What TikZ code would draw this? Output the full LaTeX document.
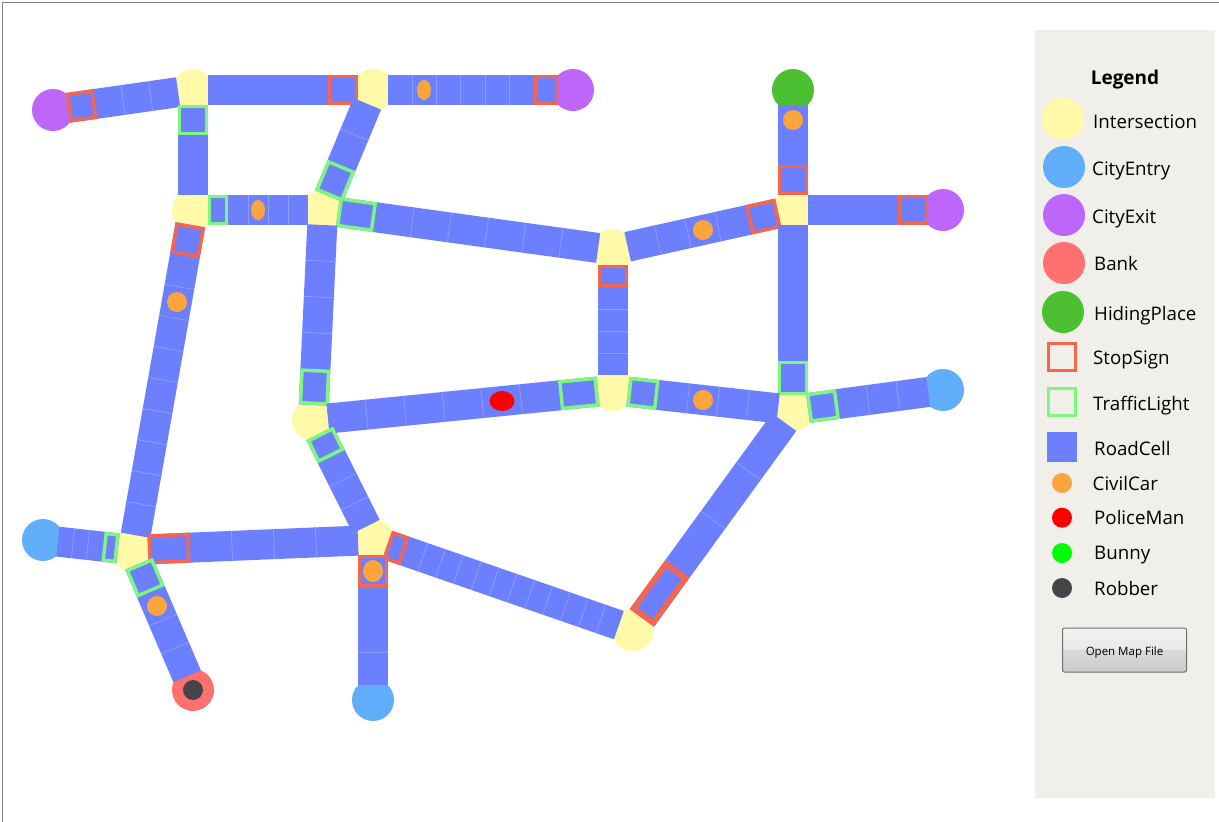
\documentclass[tikz,border=0pt]{standalone}
\usepackage{fontspec}
\setmainfont{Open Sans}
\usetikzlibrary{calc,shapes.geometric}
\definecolor{roadc}{HTML}{6B7FFF}
\definecolor{cutc}{HTML}{8D9DFF}
\definecolor{interc}{HTML}{FFF9A8}
\definecolor{entryc}{HTML}{60AEFA}
\definecolor{exitc}{HTML}{BE66FA}
\definecolor{bankc}{HTML}{FF7070}
\definecolor{hidec}{HTML}{4DBF33}
\definecolor{stopc}{HTML}{F7654D}
\definecolor{lightc}{HTML}{7DF77D}
\definecolor{carc}{HTML}{FCA53C}
\definecolor{robberc}{HTML}{444449}
\definecolor{panelc}{HTML}{F0EFEA}
\definecolor{btnA}{HTML}{CCCCCC}
\definecolor{btnB}{HTML}{D9D9D9}
\definecolor{btnC}{HTML}{E8E8E8}
\definecolor{btnD}{HTML}{F2F2F2}
\pgfdeclareverticalshading{btnshade}{100bp}{color(0bp)=(btnA); color(25bp)=(btnA); color(50bp)=(btnB); color(50.5bp)=(btnC); color(75bp)=(btnD); color(100bp)=(btnD)}
\tikzset{
  place/.style={circle,inner sep=0pt,minimum size=42pt,fill=#1},
  road/.style={draw=roadc,line width=30pt,shorten <=15pt,shorten >=15pt},
  cut/.style={draw=cutc,line width=0.8pt},
  stopbox/.style={draw=stopc,line width=3.4pt,line join=miter},
  stopheavy/.style={draw=stopc,line width=5.5pt,line join=miter},
  lightbox/.style={draw=lightc,line width=3.4pt,line join=miter},
  agent/.style={ellipse,inner sep=0pt,minimum width=20pt,minimum height=20pt,fill=#1},
  carthin/.style={ellipse,inner sep=0pt,minimum width=14pt,minimum height=20pt,fill=carc},
  lbl/.style={anchor=base west,inner sep=0pt,font=\fontsize{18.7}{22}\selectfont,text=black},
  sq/.style={rectangle,inner sep=0pt,minimum size=27pt,line width=3pt,fill=panelc,draw=#1},
}
% a, b, number of cells, visible cell borders, style of the signal box, cell of the box
\newcommand\mkroad[6]{%
  \draw[road] (#1.center) -- (#2.center);
  \pgfpointdiff{\pgfpointanchor{#1}{center}}{\pgfpointanchor{#2}{center}}%
  \pgfgetlastxy{\rdx}{\rdy}%
  \pgfmathsetmacro\rlen{veclen(\rdx,\rdy)}%
  \pgfmathsetmacro\rang{atan2(\rdy,\rdx)}%
  \pgfmathsetmacro\rcell{(\rlen-30)/#3}%
  \begin{scope}[shift={(#1.center)},rotate=\rang,x=1pt,y=1pt]
    \foreach \k in {#4}{%
      \ifnum\k>0
        \draw[cut] ({15+\k*\rcell},-15) -- ({15+\k*\rcell},15);
      \fi}
    \draw[#5] ({15+#6*\rcell+0.5*\pgflinewidth},{-15+0.5*\pgflinewidth}) rectangle ({15+(#6+1)*\rcell-0.5*\pgflinewidth},{15-0.5*\pgflinewidth});
  \end{scope}%
}
\begin{document}
\begin{tikzpicture}[x=1pt,y=-1pt]
\useasboundingbox (0,0) rectangle (1219,822);
\fill[white] (0,0) rectangle (1219,822);
\draw[gray,line width=1pt] (2.5,822) -- (2.5,2.5) -- (1219,2.5);
% places
\node[place=interc] (i1) at (193,90) {};
\node[place=interc] (i2) at (373,90) {};
\node[place=interc] (i3) at (193,210) {};
\node[place=interc] (i4) at (323,210) {};
\node[place=interc] (i5) at (613,250) {};
\node[place=interc] (i6) at (793,210) {};
\node[place=interc] (i7) at (613,390) {};
\node[place=interc] (i8) at (313,420) {};
\node[place=interc] (i9) at (793,410) {};
\node[place=interc] (i10) at (133,550) {};
\node[place=interc] (i11) at (373,540) {};
\node[place=interc] (i12) at (633,630) {};
\node[place=exitc] (x1) at (53,110) {};
\node[place=exitc] (x2) at (573,90) {};
\node[place=exitc] (x3) at (943,210) {};
\node[place=hidec] (hide) at (793,90) {};
\node[place=entryc] (e1) at (943,390) {};
\node[place=entryc] (e2) at (43,540) {};
\node[place=entryc] (e3) at (373,700) {};
\node[place=bankc] (bank) at (193,690) {};
% roads
\mkroad{x1}{i1}{4}{2,3}{stopbox}{0}
\mkroad{i1}{i2}{5}{0}{stopbox}{4}
\mkroad{i2}{x2}{7}{1,2,3,4,5}{stopbox}{6}
\mkroad{i1}{i3}{3}{0}{lightbox}{0}
\mkroad{i3}{i4}{5}{2,3,4}{lightbox}{0}
\mkroad{i4}{i5}{7}{2,3,4,5,6}{lightbox}{0}
\mkroad{i2}{i4}{3}{1}{lightbox}{2}
\mkroad{i5}{i6}{5}{1,2,3}{stopbox}{4}
\mkroad{hide}{i6}{3}{0}{stopbox}{2}
\mkroad{i6}{x3}{4}{0}{stopbox}{3}
\mkroad{i5}{i7}{5}{2,3,4}{stopbox}{0}
\mkroad{i6}{i9}{5}{0}{lightbox}{4}
\mkroad{i4}{i8}{5}{1,2,3}{lightbox}{4}
\mkroad{i8}{i7}{7}{1,2,3,4,5}{lightbox}{6}
\mkroad{i7}{i9}{5}{2,3,4}{lightbox}{0}
\mkroad{i9}{e1}{4}{2,3}{lightbox}{0}
\mkroad{i9}{i12}{4}{1,2}{stopheavy}{3}
\mkroad{i8}{i11}{4}{2,3}{lightbox}{0}
\mkroad{i11}{i12}{13}{2,3,4,5,6,7,8,9,10,11,12}{stopbox}{0}
\mkroad{i3}{i10}{10}{2,3,4,5,6,7,8,9}{stopbox}{0}
\mkroad{i10}{e2}{4}{2,3}{lightbox}{0}
\mkroad{i10}{i11}{5}{2,3,4}{stopbox}{0}
\mkroad{i10}{bank}{4}{2,3}{lightbox}{0}
\mkroad{i11}{e3}{4}{3}{stopbox}{0}
% vehicles
\node[carthin] (car1) at (424,90) {};
\node[carthin] (car2) at (258,210) {};
\node[agent=carc] (car3) at (793,120) {};
\node[agent=carc] (car4) at (703,230) {};
\node[agent=carc] (car5) at (177,302) {};
\node[agent=carc] (car6) at (703,400) {};
\node[agent=carc,minimum height=22pt] (car7) at (373,571) {};
\node[agent=carc] (car8) at (157,606) {};
\node[agent=red,minimum width=25pt] (police) at (502,401) {};
\node[agent=robberc] (robber) at (193,690) {};
% legend
\fill[panelc] (1035,30) rectangle (1215,798);
\node[lbl,font=\fontsize{19}{22}\selectfont\bfseries,anchor=base] (title) at (1125,84) {Legend};
\node[place=interc] (li) at (1063,119) {};
\node[lbl] (lti) at (1093,128) {Intersection};
\node[place=entryc] (le) at (1064,167) {};
\node[lbl] (lte) at (1092,175.7) {CityEntry};
\node[place=exitc] (lx) at (1064,215) {};
\node[lbl] (ltx) at (1092,223) {CityExit};
\node[place=bankc] (lb) at (1064,263) {};
\node[lbl] (ltb) at (1094,270) {Bank};
\node[place=hidec] (lh) at (1063,312) {};
\node[lbl] (lth) at (1094,320) {HidingPlace};
\node[sq=stopc] (ls) at (1062,357) {};
\node[lbl] (lts) at (1093,364) {StopSign};
\node[sq=lightc] (ll) at (1062,402) {};
\node[lbl] (ltl) at (1093,410.7) {TrafficLight};
\node[rectangle,inner sep=0pt,minimum size=30pt,fill=roadc] (lr) at (1062,447) {};
\node[lbl] (ltr) at (1094,455) {RoadCell};
\node[agent=carc] (lc) at (1062,483) {};
\node[lbl] (ltc) at (1092.5,490) {CivilCar};
\node[agent=red] (lp) at (1062,517.7) {};
\node[lbl] (ltp) at (1094,524) {PoliceMan};
\node[agent={green}] (lu) at (1062,553) {};
\node[lbl] (ltu) at (1094,559) {Bunny};
\node[agent=robberc] (lo) at (1062,588) {};
\node[lbl] (lto) at (1094,595) {Robber};
\node[rectangle,rounded corners=2pt,inner sep=0pt,minimum width=124pt,minimum height=44pt,draw={rgb,255:red,112;green,112;blue,112},line width=1pt,shading=btnshade] (btn) at (1124.5,650) {};
\node[lbl,font=\fontsize{11.5}{13}\selectfont,anchor=base] (btnt) at (1124.5,655) {Open Map File};
\end{tikzpicture}
\end{document}
